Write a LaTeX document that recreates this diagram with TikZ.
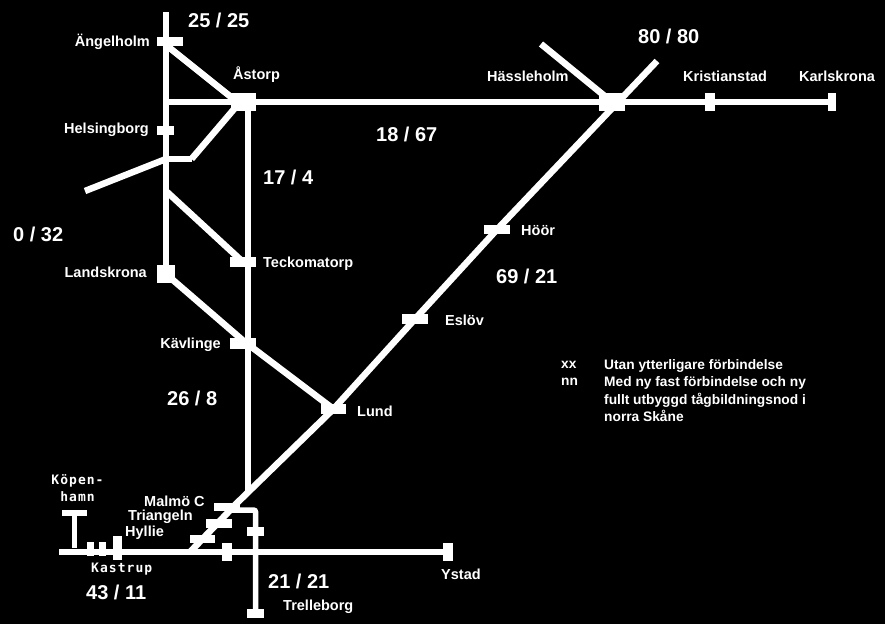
\documentclass[tikz,border=0pt]{standalone}
\usepackage{fontspec}
\setmainfont{Liberation Sans}
\newfontfamily\monotext{DejaVu Sans Mono}[LetterSpace=8]
\usetikzlibrary{positioning}
\tikzset{
    stn/.style={draw=none, fill=white, rectangle, inner sep=0pt, minimum width=#1},
    stn/.default=26pt,
    rail/.style={draw=white, line width=5.5pt},
    mainrail/.style={draw=white, line width=6.5pt},
    stnname/.style={text=white, inner sep=0pt, font=\fontsize{14.5}{15}\selectfont\bfseries},
    widename/.style={text=white, inner sep=0pt, font=\fontsize{13}{17}\monotext\bfseries},
    trains/.style={text=white, inner sep=0pt, font=\fontsize{20}{21}\selectfont\bfseries},
}
\begin{document}
\begin{tikzpicture}[x=1pt, y=-1pt]
\fill[black] (0,0) rectangle (885,624);
\useasboundingbox (0,0) rectangle (885,624);

% Stations north
\node[stn, minimum height=9pt] (angelholm) at (170,41) {};
\node[stn=25pt, minimum height=18pt] (astorp) at (243.5,102) {};
\node[stn=17pt, minimum height=9pt] (helsingborg) at (165.5,130.5) {};
\node[stn=18pt, minimum height=18pt] (landskrona) at (166,274) {};
\node[stn, minimum height=10pt] (teckomatorp) at (243,262) {};
\node[stn, minimum height=11pt] (kavlinge) at (243,343.5) {};

% Stations east
\node[stn, minimum height=18pt] (hassleholm) at (612,102) {};
\node[stn=10pt, minimum height=18pt] (kristianstad) at (710,102) {};
\node[stn=8pt, minimum height=18pt] (karlskrona) at (832,102) {};
\node[stn, minimum height=9pt] (hoor) at (497,229.5) {};
\node[stn, minimum height=10pt] (eslov) at (415,319) {};
\node[stn=25pt, minimum height=10pt] (lund) at (333.5,409) {};

% Stations south
\node[stn, minimum height=8pt] (malmo) at (227,507) {};
\node[stn, minimum height=9pt] (triangeln) at (219,523.5) {};
\node[stn=25pt, minimum height=8pt] (hyllie) at (202.5,539) {};
\node[stn=17pt, minimum height=9pt] (malmoeast) at (255.5,531.5) {};
\node[stn=10pt, minimum height=18pt] (burlov) at (227,552) {};
\node[stn=17pt, minimum height=9pt] (trelleborg) at (255.5,613.5) {};
\node[stn=10pt, minimum height=18pt] (ystad) at (448,552) {};
\node[stn=9pt, minimum height=24pt] (kastrup) at (117.5,548) {};
\node[stn=7pt, minimum height=14pt] (tarnby) at (102.5,549) {};
\node[stn=7pt, minimum height=14pt] (orestad) at (90.5,549) {};
\node[stn=25pt, minimum height=6pt] (kopenhamn) at (74.5,513) {};

% Free ends and junctions
\coordinate (northend) at (166,12);
\coordinate (angelfork) at (166,45);
\coordinate (westfork) at (166,159);
\coordinate (westbend) at (191.5,159);
\coordinate (westend) at (85,191);
\coordinate (tecofork) at (166,191);
\coordinate (nwend) at (541,44);
\coordinate (neend) at (657,61);
\coordinate (southwest) at (190,552);
\coordinate (malmofork) at (237,503);
\coordinate (westjoin) at (166,102);
\coordinate (mainjoin) at (248,494);
\coordinate (eastturn) at (255.5,510);
\coordinate (sundend) at (59,552);
\coordinate (kopenfoot) at (74.5,548);

% Lines
\draw[rail] (northend) -- (landskrona.center);
\draw[rail] (westjoin) -- (karlskrona.center);
\draw[mainrail] (angelfork) -- ([yshift=-5pt]astorp.center);
\draw[mainrail] ([yshift=4pt]astorp.center) -- (westbend);
\draw[rail] (westbend) -- (westfork);
\draw[mainrail] (westfork) -- (westend);
\draw[mainrail] (tecofork) -- (teckomatorp.center);
\draw[mainrail] (landskrona.center) -- ([yshift=3pt]kavlinge.center) -- (lund.center);
\draw[rail] (astorp.center -| mainjoin) -- (mainjoin);
\draw[mainrail] (nwend) -- (hassleholm.center);
\draw[mainrail] (neend) -- (hoor.center) -- (eslov.center) -- (lund.center) -- (malmofork) -- (southwest);
\draw[rail, rounded corners=2pt] (malmo.center |- eastturn) -- (eastturn) -- (trelleborg.center);
\draw[rail] (sundend) -- (ystad.center);
\draw[rail] (kopenhamn.center) -- (kopenfoot);

% Station names
\node[stnname, anchor=east] (angelholmtext) at (150,42) {Ängelholm};
\node[stnname, anchor=west] (astorptext) at (233,75) {Åstorp};
\node[stnname, anchor=east] (helsingborgtext) at (149,130) {Helsingborg};
\node[stnname, anchor=east] (landskronatext) at (147,272) {Landskrona};
\node[stnname, anchor=west] (teckomatorptext) at (263,264) {Teckomatorp};
\node[stnname, anchor=east] (kavlingetext) at (221,345) {Kävlinge};
\node[stnname, anchor=west] (lundtext) at (357,411) {Lund};
\node[stnname, anchor=west] (eslovtext) at (445,320) {Eslöv};
\node[stnname, anchor=west] (hoortext) at (521,231) {Höör};
\node[stnname, anchor=west] (hassleholmtext) at (487,76) {Hässleholm};
\node[stnname, anchor=west] (kristianstadtext) at (683,76) {Kristianstad};
\node[stnname, anchor=west] (karlskronatext) at (799,76) {Karlskrona};
\node[stnname, anchor=west] (malmotext) at (144,501) {Malmö C};
\node[stnname, anchor=west] (triangelntext) at (128,517) {Triangeln};
\node[stnname, anchor=west] (hyllietext) at (125,533) {Hyllie};
\node[stnname, anchor=west] (ystadtext) at (441,574) {Ystad};
\node[stnname, anchor=west] (trelleborgtext) at (283,607) {Trelleborg};
\node[widename, anchor=west] (kastruptext) at (91,569) {Kastrup};
\node[widename, align=center] (kopenhamntext) at (77.5,488) {Köpen-\\hamn};

% Train counts
\node[trains, anchor=west] (countnorth) at (188,20) {25 / 25};
\node[trains, anchor=west] (counthassle) at (638,36) {80 / 80};
\node[trains, anchor=west] (counteast) at (376,134) {18 / 67};
\node[trains, anchor=west] (countastorp) at (263,177) {17 / 4};
\node[trains, anchor=west] (countwest) at (13,234) {0 / 32};
\node[trains, anchor=west] (counthoor) at (496,276) {69 / 21};
\node[trains, anchor=west] (countkavlinge) at (167,398) {26 / 8};
\node[trains, anchor=west] (counttrelle) at (268,581) {21 / 21};
\node[trains, anchor=west] (countkastrup) at (86,592) {43 / 11};

% Legend
\node[stnname, anchor=west, font=\fontsize{13.75}{15}\selectfont\bfseries] (keyxx) at (561,365) {xx};
\node[stnname, anchor=west, font=\fontsize{13.75}{15}\selectfont\bfseries] (keynn) at (561,382) {nn};
\node[stnname, anchor=north west, align=left, font=\fontsize{13.75}{17.6}\selectfont\bfseries] (keytext) at (604,359) {Utan ytterligare förbindelse\\Med ny fast förbindelse och ny\\fullt utbyggd tågbildningsnod i\\norra Skåne};

\end{tikzpicture}
\end{document}
